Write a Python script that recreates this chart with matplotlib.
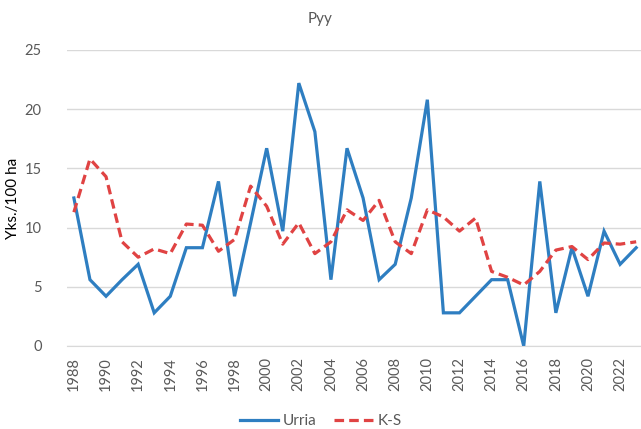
import matplotlib
matplotlib.use("Agg")
import matplotlib.pyplot as plt
import numpy as np

plt.rcParams['font.family'] = ['Lato', 'DejaVu Sans']

years = list(range(1988, 2024))
urria = [12.5, 5.6, 4.2, 5.6, 6.9, 2.8, 4.2, 8.3, 8.3, 13.9,
         4.2, 10.4, 16.7, 9.7, 22.2, 18.1, 5.6, 16.7, 12.5, 5.6,
         6.9, 12.5, 20.8, 2.8, 2.8, 4.2, 5.6, 5.6, 0.0, 13.9,
         2.8, 8.3, 4.2, 9.7, 6.9, 8.3]
ks = [11.3, 15.8, 14.3, 8.8, 7.5, 8.2, 7.8, 10.3, 10.2, 8.0,
      9.0, 13.5, 11.8, 8.6, 10.4, 7.8, 8.8, 11.5, 10.6, 12.3,
      8.8, 7.8, 11.5, 10.9, 9.7, 10.8, 6.3, 5.8, 5.15, 6.3,
      8.1, 8.4, 7.3, 8.7, 8.6, 8.8]
tick_years = list(range(1988, 2023, 2))

text_col = '#595959'
grid_col = '#D9D9D9'

fig = plt.figure(figsize=(6.41, 4.29), dpi=100)
ax = fig.add_axes([0.104, 0.1935, 0.896, 0.69])

ax.plot(years, urria, color='#2E7EC1', lw=2.3, label='Urria', solid_joinstyle='miter')
ax.plot(years, ks, color='#E04343', lw=2.3, ls=(0, (3, 1.6)), label='K-S')

ax.set_ylim(0, 25)
ax.set_xlim(1988 - 0.45, 2023 + 0.3)
ax.set_yticks(range(0, 26, 5))
ax.set_xticks(tick_years)
ax.set_xticklabels([str(y) for y in tick_years], rotation=90)
ax.grid(axis='y', color=grid_col, lw=1)
ax.set_axisbelow(True)
for s in ['top', 'right', 'left']:
    ax.spines[s].set_visible(False)
ax.spines['bottom'].set_color(grid_col)
ax.tick_params(axis='both', length=0, colors=text_col, labelsize=10.5)
ax.tick_params(axis='y', pad=18)
ax.tick_params(axis='x', pad=8)

ax.set_ylabel('Yks./100 ha', fontsize=11, color='black', labelpad=3)
fig.text(0.5, 0.955, 'Pyy', ha='center', va='center', fontsize=11, color=text_col)

fig.legend(loc='center', bbox_to_anchor=(0.5, 0.018), ncol=2, frameon=False,
           fontsize=11, labelcolor=text_col, handlelength=2.5, columnspacing=1.2,
           handletextpad=0.3)

fig.savefig('out.png', dpi=100)
